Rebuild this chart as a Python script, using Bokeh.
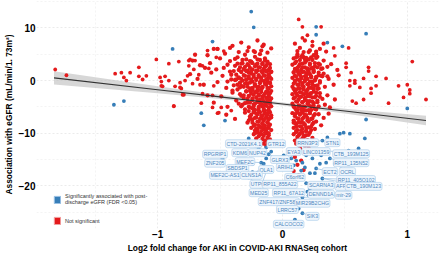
from bokeh.plotting import figure
from bokeh.models import ColumnDataSource, FixedTicker, Legend, LegendItem
from bokeh.core.properties import value
from bokeh.embed import file_html
from bokeh.resources import INLINE

# ---- data ----
# left dense cloud (not significant)
left_x = [-0.55,-0.40,-0.33,-0.27,-0.20,-0.15,-0.35,-0.46,-0.23,-0.12,-0.30,-0.18,-0.60,-0.70,-0.09,-0.42,-0.52,-0.16,
          -0.72,-0.66,-0.58,-0.50,-0.47,-0.42,-0.38,-0.36,-0.33,-0.31,-0.29,-0.27,-0.25,-0.24,-0.22,-0.21,-0.19,-0.18,-0.16,-0.15,-0.14,-0.13,-0.12,-0.11,-0.10,-0.20,-0.28,-0.35,-0.44,-0.53,-0.62,
          -0.74,-0.68,-0.63,-0.57,-0.52,-0.48,-0.45,-0.42,-0.41,-0.39,-0.37,-0.36,-0.35,-0.34,-0.33,-0.32,-0.31,-0.30,-0.29,-0.28,-0.27,-0.26,-0.25,-0.24,-0.23,-0.22,-0.21,-0.21,-0.20,-0.19,-0.18,-0.17,-0.16,-0.16,-0.15,-0.14,-0.13,-0.13,-0.12,-0.11,-0.11,-0.10,-0.10,-0.09,-0.09,-0.27,-0.19,-0.15,-0.24,-0.33,-0.38,-0.29,-0.17,-0.12,
          -0.60,-0.55,-0.49,-0.44,-0.40,-0.37,-0.34,-0.33,-0.31,-0.30,-0.29,-0.28,-0.27,-0.26,-0.25,-0.24,-0.23,-0.22,-0.22,-0.21,-0.20,-0.19,-0.19,-0.18,-0.17,-0.17,-0.16,-0.15,-0.15,-0.14,-0.13,-0.13,-0.12,-0.12,-0.11,-0.11,-0.10,-0.10,-0.09,-0.09,-0.26,-0.20,-0.14,-0.24,-0.16,-0.35,
          -0.45,-0.38,-0.30,-0.28,-0.26,-0.25,-0.24,-0.23,-0.22,-0.21,-0.20,-0.20,-0.19,-0.18,-0.18,-0.17,-0.16,-0.16,-0.15,-0.15,-0.14,-0.14,-0.13,-0.12,-0.12,-0.11,-0.11,-0.10,-0.10,-0.09,-0.09,-0.22,-0.27,-0.13,-0.17,
          -0.23,-0.21,-0.20,-0.19,-0.18,-0.17,-0.16,-0.15,-0.15,-0.14,-0.13,-0.12,-0.12,-0.11,-0.10,-0.18,-0.13,
          -0.28,-0.22,-0.17,-0.32,-0.26,-0.20,-0.14,-0.38,
          -0.30,-0.26,-0.22,-0.18,-0.14,-0.10,-0.34,-0.41,
          -0.31,-0.27,-0.23,-0.19,-0.15,-0.11,-0.35,-0.44,
          -0.30,-0.26,-0.22,-0.18,-0.14,-0.10,-0.36,-0.40,
          -0.29,-0.25,-0.21,-0.17,-0.13,-0.09,-0.33,
          -0.28,-0.24,-0.20,-0.16,-0.12,-0.32,
          -0.27,-0.23,-0.19,-0.15,-0.11,
          -0.25,-0.21,-0.17,-0.13,-0.09,
          -0.24,-0.20,-0.16,-0.12,
          -0.21,-0.17,-0.13]
left_y = [6.0,6.6,7.2,6.3,7.6,6.8,5.4,5.1,5.6,5.3,4.9,5.0,4.8,4.9,6.1,6.2,6.0,6.5,
          3.8,2.9,3.3,4.2,2.4,3.7,2.8,4.4,3.2,2.2,4.0,2.9,3.6,2.1,4.5,3.0,2.5,3.9,3.3,2.2,4.2,2.8,3.6,2.0,3.1,1.9,1.9,2.0,3.0,2.1,2.4,
          1.2,0.3,-0.8,1.5,-0.3,0.9,-1.4,1.7,0.2,-0.9,1.1,-1.7,0.5,-0.4,1.6,0.0,-1.2,0.9,1.8,-0.6,0.4,-1.5,1.3,-0.2,0.7,-1.0,1.9,0.1,-1.8,1.0,-0.5,0.5,1.5,-1.3,-0.1,0.9,-0.8,1.7,0.3,-1.5,1.2,-0.4,0.6,-1.1,1.6,1.5,-1.2,1.9,-1.7,-1.0,0.1,0.2,-1.7,-0.2,
          -2.8,-4.2,-3.0,-5.0,-2.3,-3.8,-2.6,-4.9,-3.3,-5.5,-2.1,-4.2,-3.0,-5.1,-2.5,-3.7,-4.6,-2.2,-5.6,-3.2,-4.1,-2.7,-5.0,-3.6,-2.2,-4.5,-3.0,-5.4,-3.9,-2.5,-4.8,-3.3,-2.0,-4.2,-5.6,-3.0,-3.8,-2.4,-4.9,-3.4,-2.0,-2.0,-5.7,-5.3,-4.9,-4.4,
          -6.5,-7.3,-6.1,-8.0,-6.8,-9.0,-7.4,-6.0,-8.4,-7.0,-9.3,-6.4,-7.8,-8.8,-6.0,-7.2,-8.2,-6.6,-9.2,-7.6,-6.2,-8.6,-7.0,-8.0,-6.5,-9.0,-7.4,-6.0,-8.4,-7.0,-9.4,-9.5,-7.6,-9.5,-9.6,
          -10.2,-11.0,-9.9,-10.6,-11.6,-10.2,-11.1,-12.0,-10.5,-11.4,-10.0,-10.9,-11.8,-10.4,-11.2,-12.3,-12.4,
          5.6,5.4,5.7,3.9,3.7,4.0,3.8,4.1,
          2.6,2.4,2.7,2.5,2.6,2.4,2.5,1.1,
          1.0,0.8,1.1,0.7,1.0,0.9,0.6,-0.2,
          -0.6,-0.4,-0.7,-0.3,-0.6,-0.5,-0.8,-1.9,
          -2.0,-1.9,-2.2,-1.8,-2.1,-2.0,-2.9,
          -3.5,-3.4,-3.7,-3.5,-3.6,-4.6,
          -5.0,-4.9,-5.2,-4.8,-5.1,
          -6.5,-6.3,-6.7,-6.4,-6.6,
          -8.0,-7.8,-8.1,-7.9,
          -9.1,-8.9,-9.2]

# extra genes filling the core of the left cloud
left_core_x = [-0.36,-0.32,-0.28,-0.24,-0.20,-0.16,-0.12,
               -0.39,-0.33,-0.29,-0.25,-0.21,-0.17,-0.13,-0.09,
               -0.37,-0.33,-0.29,-0.25,-0.21,-0.17,-0.13,-0.09,
               -0.34,-0.28,-0.24,-0.20,-0.16,-0.12,
               -0.31,-0.27,-0.23,-0.19,-0.15,-0.11,
               -0.30,-0.26,-0.22,-0.18,-0.14,-0.10,
               -0.27,-0.23,-0.19,-0.15,-0.11,
               -0.26,-0.22,-0.18,-0.14,-0.10,
               -0.23,-0.19,-0.15,-0.11,
               -0.22,-0.18,-0.14,-0.11]
left_core_y = [3.2,3.3,3.1,3.3,3.2,3.1,3.3,
               1.8,1.7,1.9,1.8,1.6,1.8,1.9,1.7,
               0.2,0.3,0.1,0.2,0.3,0.1,0.2,0.3,
               -1.3,-1.2,-1.4,-1.3,-1.2,-1.4,
               -2.8,-2.9,-2.7,-2.8,-2.9,-2.7,
               -4.3,-4.2,-4.4,-4.3,-4.2,-4.4,
               -5.8,-5.9,-5.7,-5.8,-5.9,
               -7.2,-7.1,-7.3,-7.2,-7.1,
               -8.6,-8.5,-8.7,-8.6,
               -10.0,-10.1,-9.9,-10.0]

# right dense cloud (not significant)
right_x = [0.10,0.14,0.18,0.21,0.24,0.27,0.12,0.30,0.35,0.16,0.25,0.33,
           0.08,0.09,0.10,0.11,0.12,0.13,0.14,0.15,0.16,0.17,0.18,0.19,0.20,0.21,0.22,0.23,0.24,0.26,0.27,0.29,0.31,0.33,0.36,0.39,0.44,0.12,0.18,0.25,
           0.08,0.08,0.09,0.10,0.10,0.11,0.12,0.12,0.13,0.14,0.14,0.15,0.16,0.16,0.17,0.18,0.18,0.19,0.20,0.20,0.21,0.22,0.23,0.23,0.24,0.25,0.26,0.27,0.28,0.29,0.30,0.32,0.34,0.37,0.41,0.45,0.13,0.21,0.09,0.26,
           0.08,0.08,0.09,0.10,0.10,0.11,0.12,0.12,0.13,0.14,0.14,0.15,0.16,0.16,0.17,0.18,0.18,0.19,0.20,0.20,0.21,0.22,0.22,0.23,0.24,0.25,0.25,0.26,0.27,0.28,0.29,0.30,0.32,0.34,0.36,0.38,0.42,0.13,0.09,0.17,
           0.08,0.09,0.09,0.10,0.11,0.12,0.12,0.13,0.14,0.14,0.15,0.16,0.16,0.17,0.18,0.19,0.19,0.20,0.21,0.22,0.23,0.24,0.25,0.26,0.27,0.29,0.31,0.33,0.37,0.10,0.15,
           0.09,0.10,0.11,0.12,0.13,0.14,0.15,0.16,0.17,0.18,0.19,0.20,0.22,0.24,0.26,0.14,0.21,
           0.10,0.12,0.15,0.09,0.13,0.17,0.11,0.19,
           0.12,0.17,0.22,0.27,
           0.10,0.14,0.18,0.22,0.26,0.30,
           0.09,0.13,0.17,0.21,0.25,0.29,0.33,
           0.10,0.14,0.18,0.22,0.26,0.30,
           0.09,0.13,0.17,0.21,0.25,0.29,
           0.10,0.14,0.18,0.22,0.26,0.30,
           0.09,0.13,0.17,0.21,0.25,
           0.10,0.14,0.18,0.22,0.26,
           0.09,0.13,0.17,0.21,0.25,
           0.11,0.15,0.19,0.23,
           0.12,0.16,0.20]
right_y = [7.0,6.2,7.6,5.4,6.6,5.1,5.0,6.0,5.5,4.8,4.8,7.0,
           3.0,4.2,2.2,3.6,4.6,2.7,3.9,2.0,3.2,4.4,2.5,3.7,2.1,4.0,3.0,2.3,3.9,2.7,4.3,3.2,2.2,3.8,2.6,3.1,2.0,1.9,4.0,2.0,
           0.5,-1.2,1.5,-0.3,0.9,-1.7,0.2,1.8,-0.8,1.1,-1.5,0.4,-0.5,1.6,-1.2,0.8,-0.1,1.4,-1.8,0.3,-0.7,1.2,-1.4,0.6,-0.2,1.7,-1.0,0.5,-1.6,1.0,-0.4,0.8,-1.2,0.3,-0.8,1.0,1.4,1.8,-0.6,0.1,
           -2.6,-4.4,-3.4,-5.2,-2.0,-4.0,-2.8,-5.6,-3.6,-4.8,-2.2,-3.1,-5.3,-4.1,-2.6,-3.7,-5.0,-2.1,-4.4,-3.0,-5.6,-2.5,-3.9,-4.9,-3.2,-2.1,-4.3,-5.4,-2.9,-3.8,-4.9,-2.4,-3.5,-4.6,-2.8,-5.1,-3.6,-5.0,-5.0,-5.7,
           -6.2,-7.6,-9.0,-6.8,-8.3,-6.1,-9.4,-7.3,-8.7,-6.5,-7.9,-9.2,-6.0,-7.0,-8.4,-6.6,-9.5,-7.6,-8.9,-6.2,-7.3,-8.3,-6.7,-9.2,-7.8,-6.4,-8.5,-7.1,-6.3,-8.0,-6.2,
           -10.2,-11.4,-9.8,-10.7,-12.0,-10.1,-11.3,-9.9,-10.8,-12.4,-10.4,-11.5,-9.9,-10.9,-11.9,-12.9,-12.8,
           -14.5,-16.0,-15.2,-17.2,-18.0,-17.0,-13.5,-14.0,
           5.6,5.4,5.7,5.5,
           3.3,3.1,3.4,3.2,3.3,3.0,
           1.6,1.5,1.7,1.4,1.6,1.5,1.3,
           0.0,-0.1,0.1,-0.2,0.0,-0.1,
           -1.6,-1.5,-1.7,-1.4,-1.6,-1.5,
           -3.2,-3.1,-3.3,-3.0,-3.2,-3.1,
           -4.8,-4.7,-4.9,-4.6,-4.8,
           -6.4,-6.3,-6.5,-6.2,-6.4,
           -8.0,-7.9,-8.1,-7.8,-8.0,
           -9.6,-9.5,-9.7,-9.4,
           -11.2,-11.0,-11.3]

# extra genes filling the core of the right cloud
right_core_x = [0.11,0.15,0.19,0.23,0.28,
                0.12,0.16,0.20,0.24,0.28,0.32,
                0.11,0.15,0.19,0.23,0.27,0.31,0.36,
                0.12,0.16,0.20,0.24,0.28,
                0.11,0.15,0.19,0.23,0.27,
                0.12,0.16,0.20,0.24,0.28,
                0.11,0.15,0.19,0.23,0.27,
                0.12,0.16,0.20,0.24,
                0.11,0.15,0.19,0.23,
                0.13,0.17,0.21,
                0.11,0.15,0.19]
right_core_y = [4.4,4.5,4.3,4.4,4.5,
                2.4,2.5,2.3,2.4,2.5,2.3,
                0.8,0.7,0.9,0.8,0.7,0.9,0.8,
                -0.8,-0.9,-0.7,-0.8,-0.9,
                -2.4,-2.3,-2.5,-2.4,-2.3,
                -4.0,-4.1,-3.9,-4.0,-4.1,
                -5.6,-5.5,-5.7,-5.6,-5.5,
                -7.2,-7.3,-7.1,-7.2,
                -8.8,-8.7,-8.9,-8.8,
                -10.4,-10.5,-10.3,
                -12.0,-11.9,-12.1]

# scattered not-significant genes
scat_x = [-1.82,-1.73,-1.34,-1.29,-1.27,-1.25,-1.22,-1.15,-1.15,-1.12,-1.09,-1.01,-0.98,-0.97,-0.96,-0.94,-0.91,-0.91,-0.87,-0.86,-0.83,-0.82,-0.81,-0.80,-0.78,-0.75,-0.76,-0.75,-0.74,-0.72,-0.71,-0.70,-0.67,-0.66,-0.64,-0.64,-0.60,-0.59,-0.56,-0.55,-0.53,-0.52,-0.49,-0.47,-0.52,
          -0.97,-0.87,-0.82,-0.79,-0.65,-0.56,-0.51,-0.41,
          0.13,0.16,0.31,0.20,0.16,0.24,0.41,0.53,0.42,0.51,0.51,0.54,0.58,0.58,0.54,0.65,0.69,0.69,0.75,0.75,0.83,0.71,0.71,0.65,0.56,0.59,0.85,0.93,1.00,1.02,1.04,0.97,1.15,1.02,0.62,0.55]
scat_y = [2.1,1.0,1.3,1.5,0.6,0.0,1.5,2.5,0.8,0.2,0.9,4.0,0.6,-0.2,-1.1,0.8,3.2,0.0,-4.8,-1.1,3.6,-0.4,-1.5,-2.7,0.0,3.8,0.9,2.8,4.0,-0.6,2.1,3.8,1.1,-0.8,-2.5,2.8,5.7,2.3,-2.8,-1.0,4.4,6.0,-5.1,5.6,-6.2,
          -1.0,-4.9,-1.3,-2.7,-4.3,-5.1,-6.1,-5.7,
          11.6,10.2,10.2,8.6,8.1,7.4,6.2,6.2,4.7,3.3,2.5,0.0,0.0,-0.5,-1.0,0.4,2.5,1.8,0.8,-1.0,0.4,-1.5,-2.4,-3.6,-3.9,-4.3,-4.3,-1.0,-0.8,-1.8,3.6,-3.2,-3.6,-2.5,-1.3,1.5]

# significantly associated genes
sig_x = [-0.25,-0.23,0.27,0.27,0.36,0.48,0.67,-0.88,-0.56,-1.35,-1.27,-0.65,-0.63,-0.46,1.00,0.67,
         -0.48,-0.19,-0.13,-0.15,-0.11,-0.21,-0.17,-0.15,-0.12,-0.24,-0.27,-0.03,0.01,-0.09,-0.24,-0.31,-0.13,-0.20,-0.27,
         0.32,0.36,0.46,0.49,0.54,0.66,0.36,0.35,0.38,0.35,0.30,0.27,0.26,0.22,0.18,0.15,0.13,0.09,0.19,0.22,0.24,0.11,0.09,0.16,0.31,0.42,0.32,0.19,0.22,0.13,0.16,0.53,0.61,0.07,
         0.21,0.13,0.13,0.16,0.10,0.20]
sig_y = [13.1,10.1,10.2,8.7,7.2,6.5,8.9,6.0,7.4,-4.6,-3.9,-6.2,-8.5,-7.6,-5.3,-7.4,
         -14.8,-12.9,-12.7,-13.9,-14.0,-13.7,-15.6,-15.8,-16.7,-17.4,-18.4,-15.2,-14.2,-13.5,-15.8,-17.1,-14.8,-17.5,-11.0,
         -11.4,-10.8,-10.1,-9.9,-10.1,-11.0,-11.6,-13.3,-14.8,-15.6,-15.8,-16.7,-17.6,-17.6,-16.5,-17.1,-18.4,-19.0,-14.2,-13.3,-14.8,-15.2,-16.1,-15.6,-14.2,-15.8,-18.6,-19.5,-20.5,-21.4,-22.2,-13.3,-12.9,-14.8,
         -21.8,-23.1,-24.3,-25.2,-26.4,-21.1]

# gene labels, their positions and the points they point to
gene_names = ["CTD-2021K4.1","GTR12","RRN3P3","STN1","RPGRIP1","KDM6","NUP42","EYA3","LINC01359","CTB_193M125",
              "MEF2C","GLRX3","ZNF205","RP11_135N52","ARIH1","SBDSP1","OLA1","ECT2","OCRL","MEF2C-AS1",
              "CLNS1A","C6orf62","RP11_405O102","UTP6","RP11_855A22","SCARNA3","AFF1","CTB_190M123","MED25","RP11_67A12",
              "DENND1A","mir-29","ZNF417/ZNF587","MIR29B2CHG","LRRC57","SIK3","CALCOCO2"]
gene_lx = [-0.31,-0.05,0.20,0.40,-0.54,-0.34,-0.20,0.09,0.27,0.55,
           -0.30,-0.02,-0.54,0.55,0.02,-0.36,-0.13,0.38,0.52,-0.46,
           -0.25,0.10,0.59,-0.20,-0.02,0.31,0.48,0.65,-0.19,0.05,
           0.31,0.49,-0.03,0.24,0.04,0.24,0.05]
gene_ly = [-12.0,-12.0,-11.8,-11.8,-14.0,-13.7,-13.7,-13.5,-13.5,-13.9,
           -15.4,-15.0,-15.7,-15.6,-16.5,-16.7,-16.9,-17.3,-17.3,-18.0,
           -18.0,-18.4,-18.8,-19.7,-19.7,-19.9,-20.1,-20.1,-21.3,-21.3,
           -21.6,-21.8,-23.0,-23.3,-24.5,-25.8,-27.3]
gene_px = [-0.19,-0.13,0.32,0.36,-0.48,-0.21,-0.15,0.07,0.22,0.35,
           -0.17,-0.11,-0.48,0.38,0.09,-0.24,-0.15,0.27,0.42,-0.31,
           -0.20,0.13,0.32,-0.27,0.09,0.19,0.22,0.32,-0.12,0.13,
           0.21,0.16,0.13,0.13,0.13,0.16,0.10]
gene_py = [-12.9,-12.7,-11.4,-11.6,-14.8,-13.7,-13.9,-14.8,-13.3,-13.3,
           -15.6,-14.0,-14.8,-14.8,-16.1,-15.8,-15.8,-16.7,-15.8,-17.1,
           -17.5,-18.4,-18.6,-18.4,-19.0,-19.5,-20.5,-18.6,-16.7,-21.4,
           -21.8,-22.2,-23.1,-23.1,-24.3,-25.2,-26.4]

# linear fit with confidence band
fit_x = [-1.83, -1.0, -0.5, 0.0, 0.5, 1.15]
fit_y = [0.5, -1.75, -3.1, -4.45, -5.8, -7.6]
fit_lo = [-0.75, -2.4, -3.5, -4.75, -6.25, -8.5]
fit_hi = [1.75, -1.1, -2.7, -4.15, -5.35, -6.7]

x_ticks = [-1, 0, 1]
y_ticks = [10, 0, -10, -20]

RED = "#E41A1C"
BLUE = "#377EB8"
FONT = "Liberation Sans"

p = figure(width=440, height=256, output_backend="svg", toolbar_location=None,
           x_range=(-1.97, 1.25), y_range=(-28.1, 15.2),
           min_border_left=28, min_border_right=2, min_border_top=0, min_border_bottom=28)
p.outline_line_color = None
p.background_fill_color = "white"

# axes
for ax in (p.xaxis, p.yaxis):
    ax.axis_line_color = None
    ax.major_tick_line_color = None
    ax.minor_tick_line_color = None
    ax.major_tick_out = 0
    ax.major_tick_in = 0
    ax.minor_tick_out = 0
    ax.minor_tick_in = 0
    ax.major_label_text_font = FONT
    ax.major_label_text_font_style = "bold"
    ax.major_label_text_font_size = "10px"
    ax.major_label_text_color = "black"
    ax.axis_label_text_font = FONT
    ax.axis_label_text_font_style = "bold"
    ax.axis_label_text_font_size = "8.4px"
    ax.axis_label_text_color = "black"
    ax.major_label_standoff = 1
p.xaxis.axis_label_standoff = 2
p.yaxis.axis_label_standoff = 2
p.xaxis.ticker = FixedTicker(ticks=x_ticks, minor_ticks=[-2, -1.5, -0.5, 0.5, 1.5])
p.yaxis.ticker = FixedTicker(ticks=y_ticks, minor_ticks=[15, 5, -5, -15, -25])
p.xaxis.axis_label = "Log2 fold change for AKI in COVID-AKI RNASeq cohort"
p.yaxis.axis_label = "Association with eGFR (mL/min/1. 73m²)"

for g in (p.xgrid, p.ygrid):
    g.grid_line_color = "#e3e3e3"
    g.grid_line_dash = "2 2"
    g.grid_line_width = 0.7
    g.minor_grid_line_color = "#ececec"
    g.minor_grid_line_dash = "2 2"
    g.minor_grid_line_width = 0.6

# confidence band
band_src = ColumnDataSource(dict(x=fit_x, lo=fit_lo, hi=fit_hi))
p.varea(x="x", y1="lo", y2="hi", source=band_src, fill_color="#bdbdbd", fill_alpha=0.6)

# points
p.scatter(left_x, left_y, size=4.3, fill_color=RED, line_color=None)
p.scatter(left_core_x, left_core_y, size=4.3, fill_color=RED, line_color=None)
p.scatter(right_x, right_y, size=4.3, fill_color=RED, line_color=None)
p.scatter(right_core_x, right_core_y, size=4.3, fill_color=RED, line_color=None)
p.scatter(scat_x, scat_y, size=3.8, fill_color=RED, line_color=None)

# fit line
p.line(fit_x, fit_y, line_color="#333333", line_width=1.1)

p.scatter(sig_x, sig_y, size=3.8, fill_color=BLUE, line_color=None)

# label connectors and labels
lab_src = ColumnDataSource(dict(lx=gene_lx, ly=gene_ly, px=gene_px, py=gene_py, name=gene_names))
p.segment(x0="lx", y0="ly", x1="px", y1="py", source=lab_src, line_color="#7fb0dc", line_width=0.6)
p.text(x="lx", y="ly", text="name", source=lab_src, text_font=value(FONT), text_font_size="5.2px",
       text_align="center", text_baseline="middle", text_color="#4d87c0",
       background_fill_color="#eef5fc", border_line_color="#a9cbe9", border_line_width=0.6,
       padding=1, border_radius=2)

# legend (hidden swatch renderers share the real data)
qb = p.rect(x=sig_x, y=sig_y, width=0.01, height=0.1, fill_color=BLUE, line_color="#9cc2e5", visible=False)
qr = p.rect(x=scat_x, y=scat_y, width=0.01, height=0.1, fill_color=RED, line_color="#f2a3a3", visible=False)
legend = Legend(items=[LegendItem(label="Significantly associated with post-\ndischarge eGFR (FDR <0.05)", renderers=[qb]),
                       LegendItem(label="Not significant", renderers=[qr])],
                location=(17, 3), orientation="vertical",
                glyph_width=8, glyph_height=9, spacing=11, padding=0, margin=0,
                label_text_font=FONT, label_text_font_size="5.5px", label_text_color="#333333",
                label_standoff=4, background_fill_alpha=0, border_line_color=None)
p.add_layout(legend)

open("out.html", "w").write(file_html(p, INLINE))
